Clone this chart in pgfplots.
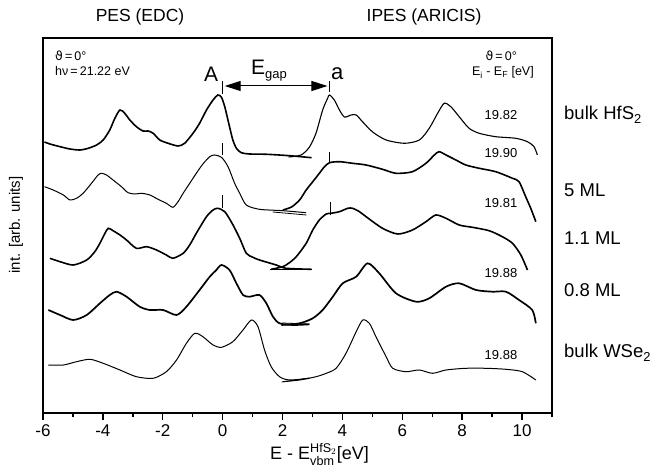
\documentclass[border=0pt]{standalone}
\usepackage{amsmath}
\usepackage{fontspec}
\setmainfont{Liberation Sans}
\newfontfamily\dejavu{DejaVu Sans}
\usepackage{pgfplots}
\pgfplotsset{compat=1.18}
\usetikzlibrary{arrows.meta}

\begin{document}
\begin{tikzpicture}[x=1pt,y=1pt]
\useasboundingbox (0,0) rectangle (652,470);
\begin{axis}[
  name=ax,
  at={(43pt,57pt)}, anchor=south west,
  width=509pt, height=375pt, scale only axis,
  xmin=-6, xmax=11, ymin=57, ymax=432,
  axis line style={line width=1.6pt, -},
  every outer x axis line/.append style={},
  ytick=\empty,
  xtick={-6,-4,...,10},
  minor xtick={-5,-3,...,9,11},
  xtick pos=bottom,
  tick align=outside,
  major tick length=7pt, minor tick length=4.5pt,
  xtick style={line width=1.4pt, black},
  minor tick style={line width=1.4pt, black},
  tick label style={font=\fontsize{17}{20}\selectfont},
  x tick label style={yshift=-1pt},
  /pgf/number format/assume math mode=true,
  clip=false,
  every axis plot/.append style={black, smooth, tension=0.45},
]

% bulk HfS2
\addplot[line width=1.6pt] coordinates {
(-5.95,328) (-5.77,326) (-5.43,323.3) (-5.1,321) (-4.77,320) (-4.49,321.7) (-4.21,325)
(-3.99,330) (-3.77,340) (-3.6,351.7) (-3.43,360) (-3.27,356.7) (-3.1,350) (-2.88,343.3)
(-2.66,339) (-2.49,339) (-2.32,336.7) (-2.1,330) (-1.82,326.7) (-1.49,324) (-1.27,326.7)
(-0.99,336.7) (-0.77,346.7) (-0.54,360) (-0.32,370) (-0.16,375) (-0.04,372.7) (0.07,363.3)
(0.23,343.3) (0.34,330) (0.46,321.7) (0.62,317.3) (0.9,316) (1.47,315.7) (2.23,314.3) (2.97,312.3)};
\addplot[line width=1.1pt] coordinates {
(2.2,313) (2.62,315) (2.9,323) (3.12,337) (3.34,360) (3.51,372) (3.57,375) (3.73,370)
(3.9,360) (4.07,353) (4.29,355) (4.46,355) (4.68,348) (5.01,338) (5.46,330) (6.07,326.7)
(6.57,330) (6.9,341.7) (7.18,356.7) (7.4,366.7) (7.62,363.3) (7.9,353.3) (8.23,341.7)
(8.57,336.7) (9.12,333.3) (9.79,331.7) (10.18,328.3) (10.4,323.3) (10.51,315)};

% 5 ML
\addplot[line width=1.0pt] coordinates {
(-5.95,283.3) (-5.66,280) (-5.32,275) (-5.1,270) (-4.88,271.7) (-4.66,276.7) (-4.38,286.7)
(-4.16,295) (-4.04,296.7) (-3.88,295) (-3.66,290) (-3.38,283.3) (-3.16,277.3) (-2.93,276)
(-2.71,276.7) (-2.43,275) (-2.16,270.7) (-1.88,266.7) (-1.66,262.7) (-1.49,268.3)
(-1.32,276.7) (-1.1,286.7) (-0.88,296.7) (-0.66,306) (-0.43,313.3) (-0.27,315) (-0.04,312.7)
(0.18,303.3) (0.4,286.7) (0.57,276.7) (0.79,265) (1.23,260.7) (2.01,259.3) (2.79,257.3)};
\addplot[line width=1.6pt] coordinates {
(2.01,260) (2.3,263) (2.57,270) (2.79,280) (3.01,288.3) (3.23,296.7) (3.4,303.3) (3.57,307.3)
(3.9,308.3) (4.34,306.7) (4.79,305) (5.34,300.7) (5.79,296.7) (6.34,298.3) (6.79,306.7)
(7.07,315) (7.23,318.3) (7.46,315) (7.79,310) (8.12,305) (8.57,301.7) (9.12,298.3)
(9.68,291.7) (9.9,288.3) (10.12,273.3) (10.29,261.7) (10.46,248.3)};
\addplot[line width=0.8pt, sharp plot] coordinates {(1.67,258) (2.8,255)};

% 1.1 ML
\addplot[line width=1.6pt] coordinates {
(-5.77,211.7) (-5.43,208.3) (-4.99,205) (-4.54,210) (-4.27,218.3) (-4.1,226.7) (-3.93,236.7)
(-3.82,241.7) (-3.66,239.3) (-3.43,235) (-3.21,230) (-2.88,221.7) (-2.54,223.3) (-2.21,220)
(-1.88,215) (-1.66,211.7) (-1.32,216.7) (-1.1,225) (-0.88,236.7) (-0.54,253.3) (-0.32,260)
(-0.16,261.7) (0.07,258.3) (0.31,247) (0.57,231.7) (0.79,216.7) (1.01,212.7) (1.23,210)
(1.79,205) (2.12,201.7) (2.96,200.7)};
\addplot[line width=1.6pt] coordinates {
(1.62,200.7) (2.01,203.3) (2.23,207.3) (2.46,213.3) (2.79,226.7) (3.01,240) (3.23,250)
(3.46,256) (3.62,256.7) (3.9,258.3) (4.18,261.7) (4.34,261.7) (4.57,258.3) (4.79,253.3)
(5.34,241.7) (5.85,236) (6.34,240) (6.79,248.3) (7.12,255) (7.46,251.7) (7.9,245)
(8.34,242.7) (8.9,239.3) (9.34,233.3) (9.68,226.7) (9.96,215) (10.18,200)};
\addplot[line width=0.8pt, sharp plot] coordinates {(1.57,201) (2.97,201)};

% 0.8 ML
\addplot[line width=1.7pt] coordinates {
(-5.82,160) (-5.43,155) (-4.99,150) (-4.54,155) (-4.1,166.7) (-3.77,175) (-3.54,178.3)
(-3.21,173.3) (-2.77,163.3) (-2.43,160) (-1.99,160) (-1.54,155) (-1.21,163.3) (-0.77,180)
(-0.43,193.3) (-0.21,200) (-0.04,205) (0.23,200) (0.46,186.7) (0.68,175) (0.9,173.3)
(1.23,175) (1.46,166.7) (1.68,153.3) (1.9,146.7) (2.34,145) (2.9,145.7)};
\addplot[line width=1.7pt] coordinates {
(1.96,145) (2.57,146.7) (3.01,151.7) (3.34,160) (3.68,173.3) (4.01,186.7) (4.46,193.3)
(4.84,206.7) (5.23,196.7) (5.79,176.7) (6.46,168.3) (6.9,171.7) (7.46,183.3) (7.9,186.7)
(8.46,180) (9.01,178.3) (9.46,178.3) (9.9,170) (10.34,160) (10.46,146.7)};
\addplot[line width=0.8pt, sharp plot] coordinates {(1.97,147) (2.9,146)};

% bulk WSe2
\addplot[line width=1.0pt] coordinates {
(-5.82,105) (-5.32,105) (-4.88,108.3) (-4.43,110.7) (-3.99,106.7) (-3.43,100) (-2.88,93.3)
(-2.32,91.7) (-1.88,98.3) (-1.54,110) (-1.21,126.7) (-0.93,136.7) (-0.66,133.3) (-0.32,125)
(-0.04,122.7) (0.34,128.3) (0.68,140) (0.96,150) (1.18,143.3) (1.4,120)
(1.62,103.3) (1.9,93.3) (2.23,90) (2.9,91.7)};
\addplot[line width=1.0pt] coordinates {
(2.01,88.3) (2.57,90) (3.12,93.3) (3.46,96.7) (3.79,101.7) (4.12,116.7) (4.46,138.3)
(4.68,150) (4.9,146.7) (5.12,133.3) (5.46,113.3) (5.68,101.7) (6.12,98.3) (6.57,100)
(7.01,96.7) (7.46,100) (8.12,101.7) (8.79,101.7) (9.46,100.7) (10.01,98.3) (10.46,90)};
\addplot[line width=0.8pt, sharp plot] coordinates {(1.97,88) (2.9,92)};

% VBM / CBM markers
\addplot[line width=1.2pt, sharp plot] coordinates {(0,376) (0,389)};
\addplot[line width=1.2pt, sharp plot] coordinates {(3.57,378) (3.57,389)};
\addplot[line width=1.2pt, sharp plot] coordinates {(0,315) (0,327)};
\addplot[line width=1.2pt, sharp plot] coordinates {(3.57,307) (3.57,318)};
\addplot[line width=1.2pt, sharp plot] coordinates {(0,262) (0,275)};
\addplot[line width=1.2pt, sharp plot] coordinates {(3.6,255) (3.6,268)};

\draw[line width=1pt, {Triangle[length=16pt,width=10pt]}-{Triangle[length=16pt,width=10pt]}]
  (axis cs:0.07,384) -- (axis cs:3.5,384);
\end{axis}

\node[font=\fontsize{17.5}{20}\selectfont] at (140,453) {PES (EDC)};
\node[font=\fontsize{17.5}{20}\selectfont] at (424,453) {IPES (ARICIS)};

\node[anchor=base west, inner sep=0, font=\fontsize{12.5}{14}\selectfont] at (55,409) {{\dejavu ϑ}\,=\,0°};
\node[anchor=base west, inner sep=0, font=\fontsize{12.5}{14}\selectfont] at (55,394) {hν\,=\,21.22 eV};
\node[anchor=base east, inner sep=0, font=\fontsize{12.5}{14}\selectfont] at (517,409) {{\dejavu ϑ}\,=\,0°};
\node[anchor=base east, inner sep=0, font=\fontsize{12.5}{14}\selectfont] at (534,394) {E\textsubscript{i} - E\textsubscript{F} [eV]};

\node[anchor=base, inner sep=0, font=\fontsize{21}{24}\selectfont] at (211,388) {A};
\node[anchor=base west, inner sep=0, font=\fontsize{21}{24}\selectfont] at (251,395) {E\raisebox{-4pt}{\fontsize{13}{14}\selectfont gap}};
\node[anchor=base west, inner sep=0, font=\fontsize{22}{24}\selectfont] at (331,390) {a};

\foreach \v/\yy in {19.82/350, 19.90/312, 19.81/262, 19.88/192, 19.88/110}
  \node[anchor=base, inner sep=0, font=\fontsize{13}{15}\selectfont] at (501,\yy) {\v};

\node[anchor=base west, inner sep=0, font=\fontsize{18.5}{21}\selectfont] at (564,350) {bulk HfS\textsubscript{2}};
\node[anchor=base west, inner sep=0, font=\fontsize{18.5}{21}\selectfont] at (564,273) {5 ML};
\node[anchor=base west, inner sep=0, font=\fontsize{18.5}{21}\selectfont] at (564,225) {1.1 ML};
\node[anchor=base west, inner sep=0, font=\fontsize{18.5}{21}\selectfont] at (564,173) {0.8 ML};
\node[anchor=base west, inner sep=0, font=\fontsize{18.5}{21}\selectfont] at (564,112) {bulk WSe\textsubscript{2}};

\node[rotate=90, font=\fontsize{15}{18}\selectfont] at (16,245) {int. [arb. units]};
\node[anchor=base west, inner sep=0, font=\fontsize{18}{20}\selectfont] at (270,10)
  {E - E$^{\text{HfS}_2}_{\text{vbm}}$[eV]};
\end{tikzpicture}
\end{document}
